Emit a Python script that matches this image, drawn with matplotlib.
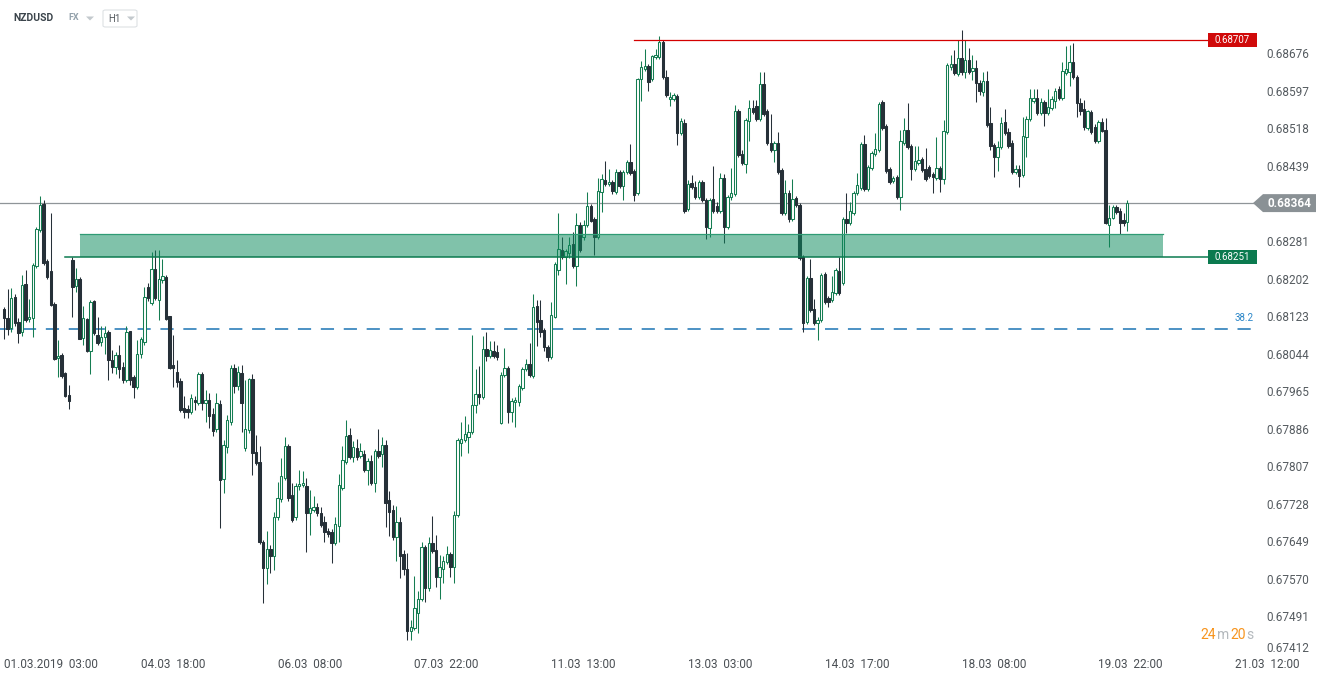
"""NZDUSD H1 candlestick chart with support zone and resistance line. Output: out.png"""
import numpy as np
import matplotlib
matplotlib.use("Agg")
import matplotlib.pyplot as plt
from matplotlib.patches import Rectangle, Polygon, FancyBboxPatch
from matplotlib.transforms import blended_transform_factory

W, H = 1325, 680
GREEN, DARK = "#157d52", "#263038"

# NZDUSD H1 from 01.03.2019 03:00, prices in units of 0.00001
opens = [
    68141, 68122, 68101, 68166, 68114, 68093, 68194, 68120, 68122, 68232, 68307, 68362, 68242,
    68221, 68152, 68038, 68044, 68006, 67960, 68244, 68190, 68204, 68080, 68120, 68053, 68158,
    68086, 68072, 68082, 68093, 68034, 68019, 68044, 68019, 67992, 68095, 67998, 67977, 68046,
    68072, 68187, 68154, 68225, 68160, 68202, 68208, 68126, 68023, 68008, 67990, 67933, 67931,
    67924, 67950, 67943, 68004, 67943, 67950, 67920, 67889, 67941, 67783, 67851, 67903, 68017,
    67979, 68006, 67849, 67886, 67994, 67840, 67819, 67651, 67596, 67636, 67621, 67703, 67741,
    67785, 67853, 67750, 67703, 67769, 67771, 67769, 67712, 67718, 67724, 67712, 67693, 67674,
    67672, 67648, 67684, 67764, 67819, 67876, 67830, 67849, 67832, 67836, 67802, 67821, 67775,
    67842, 67836, 67855, 67739, 67718, 67661, 67693, 67625, 67594, 67463, 67470, 67501, 67531,
    67640, 67554, 67648, 67634, 67577, 67594, 67609, 67625, 67598, 67707, 67859, 67865, 67872,
    67882, 67939, 67962, 67956, 68057, 68042, 68053, 68051, 67901, 68002, 68017, 67924, 67945,
    67945, 67975, 68015, 68025, 68000, 68147, 68118, 68097, 68061, 68040, 68124, 68223, 68265,
    68251, 68259, 68278, 68232, 68318, 68293, 68318, 68358, 68331, 68293, 68387, 68413, 68404,
    68408, 68387, 68429, 68400, 68429, 68451, 68432, 68385, 68625, 68646, 68653, 68625, 68672,
    68672, 68703, 68629, 68583, 68583, 68589, 68512, 68533, 68352, 68406, 68398, 68377, 68408,
    68371, 68312, 68373, 68358, 68347, 68417, 68314, 68377, 68383, 68558, 68467, 68446, 68537,
    68564, 68568, 68541, 68615, 68558, 68491, 68476, 68491, 68434, 68343, 68385, 68331, 68375,
    68360, 68251, 68114, 68206, 68141, 68112, 68118, 68215, 68164, 68160, 68175, 68221, 68196,
    68331, 68322, 68343, 68385, 68396, 68488, 68394, 68438, 68467, 68476, 68577, 68526, 68436,
    68411, 68419, 68377, 68491, 68518, 68484, 68436, 68448, 68457, 68436, 68440, 68425, 68417,
    68438, 68415, 68514, 68651, 68657, 68636, 68669, 68640, 68665, 68642, 68648, 68617, 68598,
    68621, 68533, 68486, 68461, 68482, 68535, 68514, 68491, 68429, 68436, 68423, 68503, 68541,
    68579, 68585, 68554, 68577, 68554, 68564, 68579, 68604, 68585, 68638, 68640, 68661, 68629,
    68575, 68562, 68522, 68556, 68524, 68495, 68535, 68518, 68318, 68333, 68356, 68347, 68328, 68324,
]
highs = [
    68145, 68183, 68185, 68173, 68122, 68213, 68223, 68162, 68238, 68314, 68379, 68371, 68246,
    68343, 68156, 68076, 68048, 68008, 67981, 68251, 68227, 68208, 68147, 68122, 68160, 68160,
    68124, 68105, 68105, 68097, 68055, 68051, 68065, 68030, 68105, 68095, 68002, 68076, 68082,
    68187, 68196, 68261, 68265, 68265, 68246, 68213, 68126, 68086, 68034, 67996, 67958, 67939,
    67962, 67958, 68008, 68008, 67971, 67964, 67933, 67964, 67950, 67865, 67918, 68023, 68025,
    68021, 68023, 67992, 67996, 68004, 67876, 67853, 67655, 67674, 67644, 67714, 67777, 67827,
    67872, 67857, 67775, 67775, 67802, 67800, 67785, 67760, 67747, 67733, 67724, 67705, 67680,
    67678, 67703, 67794, 67853, 67907, 67891, 67863, 67867, 67859, 67844, 67827, 67834, 67846,
    67889, 67872, 67865, 67758, 67729, 67726, 67703, 67634, 67627, 67486, 67579, 67547, 67651,
    67644, 67661, 67705, 67665, 67623, 67621, 67642, 67630, 67716, 67870, 67903, 67916, 67899,
    68086, 68015, 68021, 68084, 68093, 68074, 68074, 68065, 68008, 68059, 68021, 67954, 67956,
    67983, 68019, 68036, 68070, 68173, 68160, 68160, 68101, 68065, 68156, 68240, 68343, 68293,
    68267, 68293, 68303, 68343, 68324, 68328, 68387, 68362, 68335, 68417, 68425, 68453, 68436,
    68413, 68436, 68434, 68434, 68455, 68488, 68436, 68627, 68663, 68688, 68657, 68676, 68688,
    68716, 68707, 68644, 68598, 68596, 68594, 68543, 68541, 68413, 68423, 68411, 68413, 68413,
    68375, 68375, 68442, 68366, 68427, 68425, 68381, 68438, 68571, 68562, 68476, 68543, 68581,
    68581, 68581, 68640, 68640, 68562, 68552, 68495, 68514, 68438, 68413, 68392, 68415, 68379,
    68364, 68255, 68211, 68246, 68162, 68124, 68217, 68219, 68168, 68211, 68227, 68251, 68335,
    68385, 68366, 68389, 68427, 68493, 68507, 68444, 68474, 68512, 68577, 68581, 68531, 68440,
    68421, 68423, 68518, 68543, 68575, 68488, 68484, 68484, 68461, 68480, 68444, 68429, 68503,
    68442, 68539, 68659, 68676, 68686, 68707, 68728, 68707, 68691, 68676, 68665, 68623, 68640,
    68642, 68566, 68491, 68495, 68545, 68562, 68522, 68497, 68444, 68444, 68545, 68547, 68604,
    68604, 68604, 68585, 68581, 68604, 68589, 68606, 68611, 68661, 68695, 68697, 68701, 68634,
    68585, 68581, 68560, 68560, 68531, 68539, 68543, 68543, 68360, 68360, 68360, 68354, 68343, 68371,
]
lows = [
    68078, 68086, 68093, 68105, 68070, 68084, 68114, 68114, 68082, 68227, 68303, 68234, 68204,
    68147, 68034, 67998, 67996, 67956, 67931, 68124, 68177, 68078, 68065, 68051, 68004, 68086,
    68065, 68063, 68046, 67992, 68006, 68004, 67996, 67985, 67987, 67981, 67954, 67973, 68038,
    68065, 68158, 68150, 68160, 68118, 68196, 68118, 68015, 67977, 67977, 67924, 67912, 67912,
    67920, 67929, 67939, 67929, 67903, 67891, 67874, 67882, 67680, 67754, 67838, 67897, 67964,
    67970, 67882, 67842, 67880, 67792, 67813, 67646, 67522, 67562, 67585, 67592, 67697, 67735,
    67781, 67737, 67693, 67697, 67760, 67766, 67630, 67665, 67714, 67705, 67682, 67651, 67661,
    67606, 67644, 67651, 67760, 67815, 67825, 67819, 67823, 67827, 67798, 67771, 67771, 67756,
    67827, 67809, 67682, 67663, 67655, 67611, 67575, 67581, 67444, 67444, 67465, 67459, 67526,
    67524, 67547, 67627, 67556, 67531, 67564, 67604, 67577, 67564, 67703, 67832, 67861, 67838,
    67878, 67922, 67941, 67952, 68032, 68038, 68038, 68034, 67899, 67998, 67901, 67903, 67893,
    67937, 67970, 68011, 67998, 67996, 68063, 68082, 68053, 68032, 68036, 68122, 68213, 68246,
    68194, 68248, 68227, 68190, 68261, 68286, 68314, 68324, 68255, 68288, 68345, 68400, 68400,
    68383, 68383, 68396, 68371, 68425, 68423, 68368, 68381, 68579, 68642, 68600, 68621, 68667,
    68667, 68625, 68587, 68568, 68579, 68486, 68507, 68343, 68347, 68394, 68373, 68373, 68366,
    68288, 68293, 68343, 68343, 68343, 68280, 68310, 68371, 68379, 68461, 68444, 68427, 68495,
    68552, 68537, 68537, 68547, 68486, 68472, 68451, 68425, 68339, 68339, 68324, 68326, 68356,
    68244, 68093, 68110, 68135, 68107, 68076, 68114, 68152, 68145, 68156, 68171, 68171, 68192,
    68301, 68318, 68339, 68381, 68392, 68389, 68389, 68434, 68463, 68472, 68518, 68427, 68404,
    68406, 68373, 68350, 68486, 68478, 68413, 68432, 68444, 68429, 68411, 68417, 68385, 68413,
    68387, 68404, 68509, 68644, 68634, 68632, 68634, 68627, 68636, 68623, 68577, 68592, 68589,
    68524, 68476, 68419, 68432, 68478, 68507, 68480, 68425, 68425, 68398, 68419, 68461, 68537,
    68575, 68549, 68549, 68526, 68549, 68560, 68564, 68581, 68581, 68634, 68611, 68625, 68545,
    68549, 68518, 68518, 68509, 68491, 68491, 68514, 68320, 68272, 68331, 68341, 68299, 68316, 68305,
]
closes = [
    68122, 68099, 68164, 68112, 68091, 68192, 68118, 68124, 68234, 68310, 68360, 68238, 68208,
    68150, 68036, 68042, 68000, 67958, 67947, 68187, 68204, 68078, 68122, 68053, 68156, 68091,
    68070, 68082, 68091, 68034, 68019, 68044, 68015, 67992, 68093, 67992, 67977, 68046, 68078,
    68166, 68164, 68225, 68164, 68204, 68211, 68120, 68017, 68017, 67987, 67929, 67924, 67924,
    67954, 67945, 68004, 67943, 67950, 67916, 67884, 67943, 67781, 67855, 67907, 68017, 67979,
    68008, 67943, 67889, 67994, 67838, 67817, 67651, 67596, 67636, 67621, 67703, 67743, 67790,
    67853, 67743, 67697, 67769, 67773, 67775, 67712, 67722, 67724, 67712, 67686, 67672, 67667,
    67648, 67688, 67771, 67823, 67874, 67830, 67851, 67830, 67842, 67802, 67821, 67775, 67842,
    67832, 67855, 67733, 67714, 67661, 67693, 67621, 67594, 67463, 67472, 67512, 67531, 67640,
    67554, 67648, 67632, 67577, 67598, 67611, 67625, 67598, 67707, 67865, 67867, 67878, 67882,
    67939, 67962, 67956, 68057, 68042, 68055, 68042, 68040, 68002, 68017, 67924, 67947, 67950,
    67979, 68015, 68025, 68002, 68145, 68114, 68093, 68061, 68040, 68128, 68236, 68267, 68251,
    68263, 68276, 68232, 68318, 68265, 68318, 68358, 68326, 68293, 68389, 68415, 68404, 68408,
    68389, 68429, 68400, 68429, 68451, 68427, 68381, 68625, 68651, 68653, 68619, 68674, 68676,
    68703, 68629, 68592, 68587, 68592, 68512, 68537, 68347, 68404, 68398, 68377, 68408, 68371,
    68314, 68371, 68347, 68347, 68417, 68314, 68377, 68385, 68558, 68465, 68448, 68539, 68564,
    68556, 68541, 68615, 68552, 68491, 68476, 68491, 68429, 68343, 68385, 68331, 68373, 68360,
    68248, 68112, 68206, 68139, 68112, 68118, 68213, 68156, 68156, 68177, 68223, 68175, 68331,
    68322, 68347, 68385, 68402, 68488, 68394, 68440, 68469, 68478, 68573, 68522, 68432, 68408,
    68417, 68377, 68495, 68518, 68482, 68436, 68453, 68455, 68434, 68415, 68421, 68419, 68438,
    68415, 68516, 68655, 68657, 68638, 68669, 68640, 68665, 68640, 68648, 68617, 68600, 68621,
    68528, 68484, 68461, 68482, 68533, 68512, 68484, 68429, 68436, 68421, 68505, 68541, 68585,
    68585, 68554, 68577, 68554, 68566, 68583, 68600, 68585, 68642, 68646, 68661, 68629, 68575,
    68558, 68524, 68558, 68514, 68495, 68535, 68516, 68322, 68333, 68356, 68345, 68322, 68322, 68364,
]

xtick_bars = [0, 38, 76, 114, 152, 190, 228, 266, 304, 342]
xtick_labels = ["01.03.2019  03:00", "04.03  18:00", "06.03  08:00", "07.03  22:00",
                "11.03  13:00", "13.03  03:00", "14.03  17:00", "18.03  08:00",
                "19.03  22:00", "21.03  12:00"]
ytick_values = [0.68676, 0.68597, 0.68518, 0.68439, 0.68360, 0.68281, 0.68202, 0.68123,
                0.68044, 0.67965, 0.67886, 0.67807, 0.67728, 0.67649, 0.67570, 0.67491]
bottom_label = 0.67412

resistance = 0.68707
support = 0.68251
zone_top = 0.68299
last_price = 0.68364
fib_382 = 0.68099

plt.rcParams["font.family"] = ["Roboto", "DejaVu Sans"]
plt.rcParams["lines.scale_dashes"] = False

o, h, l, c = (np.array(a) / 1e5 for a in (opens, highs, lows, closes))
x = np.arange(len(c))

fig = plt.figure(figsize=(W / 100, H / 100), dpi=100, facecolor="white")
ax = fig.add_axes([0, 28 / H, 1255 / W, 652 / H])
ax.set_xlim(-1.11, 347.5)
ax.set_ylim(0.674192, 0.687915)
for s in ax.spines.values():
    s.set_visible(False)
ax.set_yticks([])


def fp(px, py):
    """figure fraction from pixel position (top-left origin)"""
    return px / W, 1 - py / H


# reference lines behind the candles
ax.axhline(last_price, color="#8f9598", lw=0.9, zorder=1)
ax.axhline(fib_382, color="#1b74b4", lw=1.1, dashes=(9.5, 7), zorder=1)
ax.text(347, fib_382 + 0.00013, "38.2", ha="right", va="bottom", fontsize=7, color="#2a86c8")

# candles
up = c > o
col = np.where(up, GREEN, DARK)
ax.vlines(x, l, h, colors=col, lw=0.75, zorder=2)
ax.bar(x, np.maximum(np.abs(c - o), 0.000012), bottom=np.minimum(o, c), width=0.68,
       color=np.where(up, "white", DARK), edgecolor=col, linewidth=0.75, zorder=3)

# support zone and levels
ax.add_patch(Rectangle((21, support), 322 - 21, zone_top - support, facecolor="#0c8a5d",
                       alpha=0.52, edgecolor="none", zorder=4))
ax.plot([21, 322], [zone_top, zone_top], color="#2f9b74", lw=0.9, zorder=4)
ax.plot([17, 334.5], [support, support], color="#0b7a4f", lw=1.1, zorder=5)
ax.plot([175, 334.5], [resistance, resistance], color="#d40000", lw=0.9, zorder=5)

# price tags on the right
bt = blended_transform_factory(fig.transFigure, ax.transData)
for val, colr in [(resistance, "#d00a0a"), (support, "#0b7a4f")]:
    ax.add_patch(Rectangle((1208 / W, val - 0.000142), 49 / W, 0.000284, transform=bt,
                           facecolor=colr, edgecolor="none", clip_on=False, zorder=6))
    ax.text(1232.5 / W, val, f"{val:.5f}", transform=bt, ha="center", va="center",
            fontsize=7, color="white", clip_on=False, zorder=7)
hh = 0.000189
ax.add_patch(Polygon([(1253 / W, last_price), (1263 / W, last_price + hh),
                      (1316 / W, last_price + hh), (1316 / W, last_price - hh),
                      (1263 / W, last_price - hh)], closed=True, transform=bt,
                     facecolor="#8a9195", edgecolor="none", clip_on=False, zorder=6))
ax.text(1290 / W, last_price, f"{last_price:.5f}", transform=bt, ha="center", va="center",
        fontsize=8.5, fontweight="bold", color="white", clip_on=False, zorder=7)

# price axis labels
for v in ytick_values:
    if abs(v - last_price) < 0.0002:
        continue
    ax.text(1266 / W, v, f"{v:.5f}", transform=bt, ha="left", va="center",
            fontsize=8.5, color="#555b60", clip_on=False)
fig.text(*fp(1266, 649), f"{bottom_label:.5f}", ha="left", va="center",
         fontsize=8.5, color="#555b60")

# time axis labels
ax.set_xticks(xtick_bars, labels=xtick_labels)
ax.tick_params(axis="x", length=0, pad=4, labelsize=8.5, labelcolor="#4a4f54")
for t in ax.get_xticklabels():
    t.set_ha("left")

# header
fig.text(*fp(13, 18), "NZDUSD", fontsize=7.5, fontweight="bold", color="#3b444b", va="center")
fig.text(*fp(68, 18), "FX", fontsize=6.5, fontweight="bold", color="#93a1ab", va="center")
fig.patches.append(FancyBboxPatch(fp(103, 27), 34 / W, 17 / H,
                                  boxstyle="round,pad=0,rounding_size=0.002",
                                  transform=fig.transFigure, facecolor="white",
                                  edgecolor="#dde1e4", lw=0.8, zorder=1))
for tx in (86, 127):
    fig.patches.append(Polygon([fp(tx, 16.5), fp(tx + 8, 16.5), fp(tx + 4, 20.5)], closed=True,
                               transform=fig.transFigure, facecolor="#c3c9cd",
                               edgecolor="none", zorder=2))
fig.text(*fp(108, 18.5), "H1", fontsize=7, color="#555b60", va="center")

# candle countdown
for tx, s, colr in [(1200, "24", "#f7941d"), (1216.5, "m", "#b4b9bd"),
                    (1230, "20", "#f7941d"), (1246.5, "s", "#b4b9bd")]:
    fig.text(*fp(tx, 635), s, fontsize=10, color=colr, va="center", ha="left")

fig.savefig("out.png", dpi=100, facecolor="white")
print("OK: out.png")
